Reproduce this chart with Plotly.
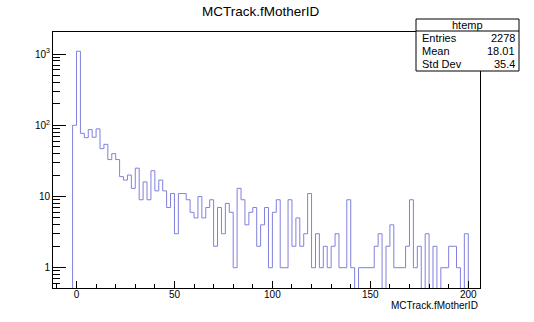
import math
import plotly.graph_objects as go

# Canvas and frame geometry (pixels)
W, H = 534, 322
FRAME_L, FRAME_R, FRAME_T, FRAME_B = 53, 480, 32, 288

title_text = "MCTrack.fMotherID"
x_title_text = "MCTrack.fMotherID"
hist_name = "htemp"
stats_labels = ["Entries", "Mean", "Std Dev"]
stats_values = ["2278", "18.01", "35.4"]

# Histogram binning and bin contents (bins of width 2 starting at -2)
first_edge = -2
bin_width = 2
counts = [
    100, 1096, 77, 67, 87, 68, 89, 47, 54, 33,
    40, 33, 19, 17, 20, 13, 25, 9, 16, 9,
    23, 12, 17, 12, 7, 11, 3, 11, 11, 9,
    6, 5, 10, 5, 7, 9, 2, 7, 3, 8,
    6, 1, 13, 9, 4, 6, 7, 2, 4, 7,
    1, 6, 9, 1, 1, 9, 2, 5, 2, 3,
    11, 1, 3, 1, 2, 1, 2, 3, 1, 1,
    9, 1, 0, 1, 1, 1, 1, 2, 3, 0,
    2, 4, 1, 1, 1, 2, 9, 1, 2, 0,
    3, 0, 2, 0, 1, 1, 2, 2, 1, 0,
    3,
]

x_range = [-12, 206]
x_major_step = 50
x_minor_step = 10
y_log_range = [-0.285, 3.31]
y_major = [1, 10, 100, 1000]
y_major_text = ["1", "10", "10<sup>2</sup>", "10<sup>3</sup>"]

LINE_COLOR = "#8080dd"
FONT = "Liberation Sans, Arial, Helvetica, sans-serif"

# Step outline of the histogram; empty bins fall below the visible range
floor = 10 ** (y_log_range[0] - 1)
edges = [first_edge + i * bin_width for i in range(len(counts) + 1)]
xs, ys = [edges[0]], [floor]
for i, c in enumerate(counts):
    v = c if c > 0 else floor
    xs += [edges[i], edges[i + 1]]
    ys += [v, v]
xs.append(edges[-1])
ys.append(floor)

# Minor log ticks 2..9 in each decade
y_minor = [k * 10 ** d for d in range(-1, 4) for k in range(2, 10)
           if y_log_range[0] <= math.log10(k * 10 ** d) <= y_log_range[1]]

fig = go.Figure()
fig.add_trace(go.Scatter(x=xs, y=ys, mode="lines",
                         line=dict(color=LINE_COLOR, width=1, shape="linear"),
                         hoverinfo="skip"))


def px_x(p):
    return (p - FRAME_L) / (FRAME_R - FRAME_L)


def px_y(p):
    return (FRAME_B - p) / (FRAME_B - FRAME_T)


fig.update_layout(
    width=W, height=H,
    margin=dict(l=FRAME_L, r=W - FRAME_R, t=FRAME_T, b=H - FRAME_B, pad=0),
    paper_bgcolor="white", plot_bgcolor="white",
    showlegend=False,
    font=dict(family=FONT, color="black", size=10),
)

fig.update_xaxes(
    range=x_range, showgrid=False, zeroline=False,
    showline=True, mirror=True, linecolor="black", linewidth=1,
    ticks="inside", ticklen=7, tickwidth=1, tickcolor="black",
    tick0=0, dtick=x_major_step,
    tickfont=dict(family=FONT, size=10),
    ticklabelstandoff=-3,
    minor=dict(ticks="inside", ticklen=4, tickcolor="black", tickwidth=1,
               tick0=0, dtick=x_minor_step, showgrid=False),
)
fig.update_yaxes(
    type="log", range=y_log_range, showgrid=False, zeroline=False,
    showline=True, mirror=True, linecolor="black", linewidth=1,
    ticks="inside", ticklen=13, tickwidth=1, tickcolor="black",
    tickmode="array", tickvals=y_major, ticktext=y_major_text,
    tickfont=dict(family=FONT, size=10),
    minor=dict(ticks="inside", ticklen=7, tickcolor="black", tickwidth=1,
               tickmode="array", tickvals=y_minor, showgrid=False),
)

# Title
fig.add_annotation(text=title_text, xref="paper", yref="paper",
                   x=px_x(260.5), y=px_y(11), xanchor="center", yanchor="middle",
                   showarrow=False, font=dict(family=FONT, size=13.5))

# X axis title, right-aligned with the frame
fig.add_annotation(text=x_title_text, xref="paper", yref="paper",
                   x=1.0, y=px_y(305), xanchor="right", yanchor="middle",
                   showarrow=False, font=dict(family=FONT, size=10))

# Statistics box
SB_L, SB_R, SB_T, SB_B, SB_HDR = 416, 519, 19, 71, 31
fig.add_shape(type="rect", xref="paper", yref="paper",
              x0=px_x(SB_L), x1=px_x(SB_R), y0=px_y(SB_B), y1=px_y(SB_T),
              line=dict(color="black", width=1), fillcolor="white", layer="above")
fig.add_shape(type="line", xref="paper", yref="paper",
              x0=px_x(SB_L), x1=px_x(SB_R), y0=px_y(SB_HDR), y1=px_y(SB_HDR),
              line=dict(color="black", width=1), layer="above")
fig.add_annotation(text=hist_name, xref="paper", yref="paper",
                   x=px_x((SB_L + SB_R) / 2), y=px_y((SB_T + SB_HDR) / 2),
                   xanchor="center", yanchor="middle", showarrow=False,
                   font=dict(family=FONT, size=11))
row_h = (SB_B - SB_HDR) / len(stats_labels)
for i, (lab, val) in enumerate(zip(stats_labels, stats_values)):
    yc = SB_HDR + row_h * (i + 0.5)
    fig.add_annotation(text=lab, xref="paper", yref="paper",
                       x=px_x(SB_L + 4), y=px_y(yc), xanchor="left", yanchor="middle",
                       showarrow=False, font=dict(family=FONT, size=11))
    fig.add_annotation(text=val, xref="paper", yref="paper",
                       x=px_x(SB_R - 2), y=px_y(yc), xanchor="right", yanchor="middle",
                       showarrow=False, font=dict(family=FONT, size=11))

fig.write_html("out.html")
